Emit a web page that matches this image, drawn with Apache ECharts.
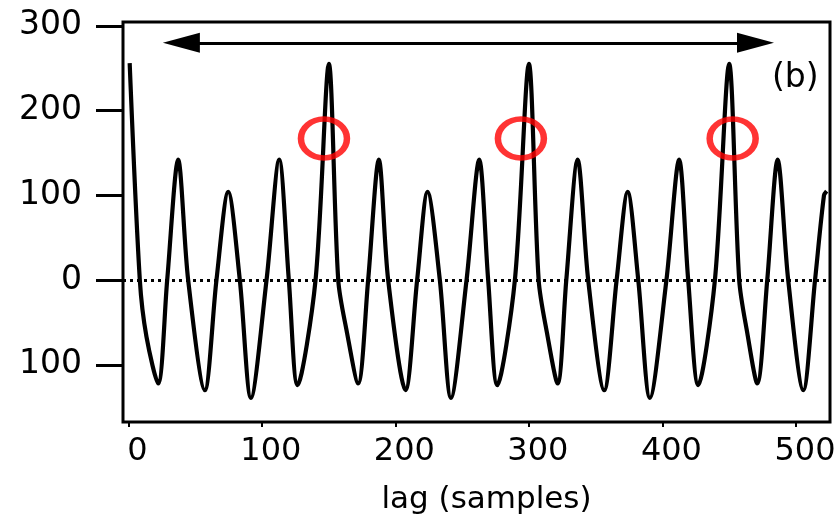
<!DOCTYPE html>
<html>
<head>
<meta charset="utf-8">
<script src="https://cdn.jsdelivr.net/npm/echarts@6/dist/echarts.min.js"></script>
<style>
  html, body { margin: 0; padding: 0; background: #fff; }
  #chart { width: 840px; height: 515px; }
</style>
</head>
<body>
<div id="chart"></div>
<script>
// Autocorrelation of the signal against lag (in samples)
const lags = [
  1, 8.6, 13.6, 22.3, 29.1, 37.3, 44.8, 57.3, 66, 74.8, 83.5, 91.8, 103.5, 113, 120.2, 126.7,
  140.2, 150.2, 157.2, 163.4, 172.1, 179.6, 187.6, 194.6, 207.6, 216.3, 224.1, 233.3, 241.6,
  253.3, 262.8, 269.5, 276.3, 289.5, 300, 307.3, 313.5, 321.5, 328, 336.5, 344.4, 356.4,
  365.7, 374, 381.9, 390.6, 403, 412.5, 419.3, 426.8, 439.3, 450, 457.5, 463.5, 471, 478.5,
  486.3, 494.2, 505.5, 514.3, 521, 523
];
const acf = [
  256, 0, -67, -122, 0, 142, 0, -130, 0, 104, 0, -139, 0, 142, 0, -124,
  0, 255, 0, -59, -122, 0, 142, 0, -130, 0, 104, 0, -139,
  0, 142, 0, -124, 0, 255, 0, -62, -122, 0, 142, 0, -130,
  0, 104, 0, -139, 0, 142, 0, -124, 0, 255, 0, -62, -122, 0,
  142, 0, -130, 0, 100, 105
];

// Period marker (double arrow) and highlighted points
const arrowLags = [39.7, 469.7];
const arrowLevel = 280;
const circleLags = [146.5, 294, 452.6];
const circleLevel = 167;

const xTicks = [0, 100, 200, 300, 400, 500];
const yTicks = [-100, 0, 100, 200, 300];
const panelTag = '(b)';
const xName = 'lag (samples)';

const curve = lags.map((l, i) => [l, acf[i]]);
const circles = circleLags.map(l => [l, circleLevel]);

const chart = echarts.init(document.getElementById('chart'), null, { renderer: 'canvas' });

chart.setOption({
  animation: false,
  backgroundColor: '#ffffff',
  textStyle: { fontFamily: 'DejaVu Sans', color: '#000' },
  grid: {
    left: 123, right: 10, top: 22, bottom: 93,
    outerBoundsMode: 'none',
    containLabel: false,
    show: true, borderColor: '#000', borderWidth: 3, backgroundColor: 'transparent'
  },
  xAxis: {
    type: 'value',
    min: -4, max: 525.5,
    name: xName,
    nameLocation: 'middle',
    nameGap: 62,
    nameTextStyle: { fontSize: 31, color: '#000', fontFamily: 'DejaVu Sans', padding: [0, 0, 0, 20] },
    axisLine: { show: false, onZero: false },
    splitLine: { show: false },
    axisTick: { show: true, customValues: xTicks, length: 5, lineStyle: { color: '#000', width: 2 } },
    axisLabel: {
      customValues: xTicks, fontSize: 32, color: '#000', margin: 14,
      padding: [0, 0, 0, 18], fontFamily: 'DejaVu Sans'
    }
  },
  yAxis: {
    type: 'value',
    min: -167.5, max: 304.5,
    axisLine: { show: false, onZero: false },
    splitLine: { show: false },
    axisTick: { show: true, customValues: yTicks, length: 27, lineStyle: { color: '#000', width: 3 } },
    axisLabel: {
      customValues: yTicks, fontSize: 33, color: '#000', margin: 41,
      fontFamily: 'DejaVu Sans',
      formatter: v => String(Math.abs(v))
    }
  },
  graphic: [{
    type: 'text',
    left: 772, top: 62,
    style: { text: panelTag, font: '33px "DejaVu Sans"', fill: '#000' }
  }],
  series: [
    {
      type: 'line',
      data: curve,
      smooth: 0.3,
      showSymbol: false,
      lineStyle: { color: '#000', width: 4.2 },
      z: 3,
      markLine: {
        silent: true,
        symbol: ['none', 'none'],
        label: { show: false },
        lineStyle: { color: '#000', width: 2.8, type: [3, 4] },
        data: [{ yAxis: 0 }]
      }
    },
    {
      type: 'line',
      data: [],
      markLine: {
        silent: true,
        symbol: ['triangle', 'triangle'],
        symbolSize: [20, 37],
        label: { show: false },
        lineStyle: { color: '#000', width: 3, type: 'solid' },
        data: [[{ coord: [arrowLags[0], arrowLevel] }, { coord: [arrowLags[1], arrowLevel] }]]
      }
    },
    {
      type: 'scatter',
      data: circles,
      symbol: 'path://M0,1 A1,1 0 1,1 2,1 A1,1 0 1,1 0,1 Z',
      symbolSize: [46, 39],
      itemStyle: { color: 'rgba(0,0,0,0)', borderColor: '#ff0000', borderWidth: 6 },
      z: 5
    }
  ]
});
</script>
</body>
</html>
